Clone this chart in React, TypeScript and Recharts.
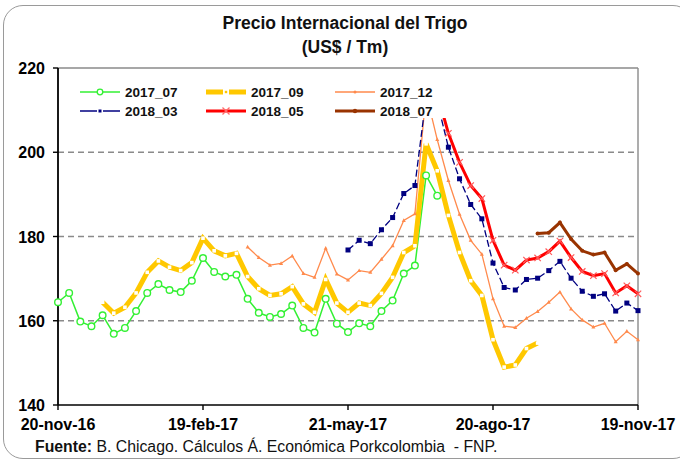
import React from 'react';
import { LineChart, Line, XAxis, YAxis, ReferenceLine, Legend } from 'recharts';

const xTicks = [0, 13, 26, 39, 52];
const xTickLabels = ['20-nov-16', '19-feb-17', '21-may-17', '20-ago-17', '19-nov-17'];
const yTicks = [140, 160, 180, 200, 220];
const gridLevels = [160, 180, 200];

const s2017_07 = [
  164.4, 166.6, 159.8, 158.7, 161.3, 156.9, 158.3, 162.3, 166.6, 168.7,
  167.3, 166.8, 169.5, 174.9, 171.6, 170.5, 170.9, 165.2, 161.9, 160.9,
  161.6, 163.6, 158.3, 157.2, 165.2, 159.3, 157.3, 159.4, 158.7, 162.3,
  164.8, 171.2, 173.1, 194.5, 189.7, null, null, null, null, null,
  null, null, null, null, null, null, null, null, null, null,
  null, null, null,
];
const s2017_09 = [
  null, null, null, null, 164.4, 161.8, 163.2, 166.6, 171.5, 174.2,
  172.7, 171.9, 173.8, 179.6, 176.6, 175.4, 176.0, 170.5, 167.6, 166.0,
  166.4, 168.1, 164.0, 162.0, 169.8, 164.2, 162.0, 164.2, 163.6, 166.5,
  170.3, 176.2, 177.8, 202.0, 195.6, 185.0, 176.2, 169.5, 166.0, 155.5,
  149.0, 149.5, 153.4, 154.7, null, null, null, null, null, null,
  null, null, null,
];
const s2017_12 = [
  null, null, null, null, null, null, null, null, null, null,
  null, null, null, null, null, null, null, 177.5, 175.0, 173.2,
  173.6, 175.4, 171.2, 170.3, 177.2, 171.1, 169.7, 171.9, 171.5, 174.6,
  177.8, 183.8, 185.4, 214.0, 203.0, 193.3, 185.3, 179.1, 175.8, 165.2,
  158.7, 158.4, 160.6, 162.2, 164.4, 166.8, 162.8, 160.2, 158.5, 159.4,
  155.0, 157.5, 155.5,
];
const s2018_03 = [
  null, null, null, null, null, null, null, null, null, null,
  null, null, null, null, null, null, null, null, null, null,
  null, null, null, null, null, null, 176.8, 179.1, 178.3, 181.6,
  184.5, 190.2, 192.1, 213.0, 212.0, 201.2, 193.7, 187.6, 184.2, 173.7,
  167.9, 167.3, 169.8, 170.1, 171.9, 174.1, 170.1, 167.0, 165.8, 166.4,
  162.3, 164.2, 162.4,
];
const s2018_05 = [
  null, null, null, null, null, null, null, null, null, null,
  null, null, null, null, null, null, null, null, null, null,
  null, null, null, null, null, null, null, null, null, null,
  null, null, null, null, 214.0, 204.5, 197.6, 192.1, 189.0, 179.1,
  173.2, 172.0, 174.4, 174.9, 176.4, 178.9, 175.0, 171.7, 170.7, 171.2,
  166.6, 168.3, 166.4,
];
const s2018_07 = [
  null, null, null, null, null, null, null, null, null, null,
  null, null, null, null, null, null, null, null, null, null,
  null, null, null, null, null, null, null, null, null, null,
  null, null, null, null, null, null, null, null, null, null,
  null, null, null, 180.7, 180.9, 183.3, 179.4, 176.6, 175.7, 176.2,
  172.0, 173.5, 171.2,
];

const data = s2017_07.map((_, i) => ({
  week: i,
  a: s2017_07[i],
  b: s2017_09[i],
  c: s2017_12[i],
  d: s2018_03[i],
  e: s2018_05[i],
  f: s2018_07[i],
}));

const GREEN = '#33F033';
const YELLOW = '#FFC800';
const ORANGE = '#FF8A4C';
const NAVY = '#000080';
const RED = '#FF0000';
const BROWN = '#993300';

const FONT = '"Liberation Sans", Arial, sans-serif';

const empty = (key: any) => <g key={key} />;

const greenDot = (p: any) => {
  if (p.cy == null || p.value == null) return empty(p.index);
  return <circle key={p.index} cx={p.cx} cy={p.cy} r={3.3} fill="#fff" stroke={GREEN} strokeWidth={1.4} />;
};
const yellowDot = (p: any) => {
  if (p.cy == null || p.value == null) return empty(p.index);
  return <rect key={p.index} x={p.cx - 1.8} y={p.cy - 1.8} width={3.6} height={3.6} fill="#fff" />;
};
const orangeDot = (p: any) => {
  if (p.cy == null || p.value == null) return empty(p.index);
  return (
    <path key={p.index} d={`M${p.cx},${p.cy - 2.2} L${p.cx + 2},${p.cy + 1.5} L${p.cx - 2},${p.cy + 1.5} Z`} fill={ORANGE} />
  );
};
const navyDot = (p: any) => {
  if (p.cy == null || p.value == null) return empty(p.index);
  return <rect key={p.index} x={p.cx - 2.5} y={p.cy - 2.5} width={5} height={5} fill={NAVY} />;
};
const redDot = (p: any) => {
  if (p.cy == null || p.value == null) return empty(p.index);
  const s = 3.2;
  return (
    <path
      key={p.index}
      d={`M${p.cx - s},${p.cy - s} L${p.cx + s},${p.cy + s} M${p.cx + s},${p.cy - s} L${p.cx - s},${p.cy + s}`}
      stroke="#FF5A5A"
      strokeWidth={1.2}
      fill="none"
    />
  );
};
const brownDot = (p: any) => {
  if (p.cy == null || p.value == null) return empty(p.index);
  return <circle key={p.index} cx={p.cx} cy={p.cy} r={2} fill={BROWN} />;
};

const XTick = (props: any) => {
  const { x, y, payload } = props;
  const idx = xTicks.indexOf(payload.value);
  return (
    <text x={x} y={y + 18} textAnchor="middle" fontFamily={FONT} fontWeight="bold" fontSize={16} fill="#000">
      {xTickLabels[idx]}
    </text>
  );
};

const YTick = (props: any) => {
  const { x, y, payload } = props;
  return (
    <text x={x} y={y + 6} textAnchor="end" fontFamily={FONT} fontWeight="bold" fontSize={16} fill="#000">
      {payload.value}
    </text>
  );
};

const legendItems = [
  { name: '2017_07', col: 0, row: 0, kind: 'green' },
  { name: '2017_09', col: 1, row: 0, kind: 'yellow' },
  { name: '2017_12', col: 2, row: 0, kind: 'orange' },
  { name: '2018_03', col: 0, row: 1, kind: 'navy' },
  { name: '2018_05', col: 1, row: 1, kind: 'red' },
  { name: '2018_07', col: 2, row: 1, kind: 'brown' },
];
const colLineStart = [18, 144, 273];

const legendIcon = (kind: string, x0: number, y: number) => {
  const x1 = x0 + 40;
  const m = x0 + 20;
  switch (kind) {
    case 'green':
      return (
        <g>
          <line x1={x0} y1={y} x2={x1} y2={y} stroke={GREEN} strokeWidth={1.5} />
          <circle cx={m} cy={y} r={2.8} fill="#fff" stroke={GREEN} strokeWidth={1.3} />
        </g>
      );
    case 'yellow':
      return (
        <g>
          <rect x={x0} y={y - 2.5} width={17} height={5} fill={YELLOW} />
          <rect x={m - 1.2} y={y - 1.2} width={2.4} height={2.4} fill={YELLOW} />
          <rect x={m + 3} y={y - 2.5} width={17} height={5} fill={YELLOW} />
        </g>
      );
    case 'orange':
      return (
        <g>
          <line x1={x0} y1={y} x2={x1} y2={y} stroke={ORANGE} strokeWidth={1.5} />
          <circle cx={m} cy={y} r={1.5} fill={ORANGE} />
        </g>
      );
    case 'navy':
      return (
        <g>
          <line x1={x0} y1={y} x2={m - 3} y2={y} stroke={NAVY} strokeWidth={1.5} />
          <rect x={m - 1.5} y={y - 1.5} width={3} height={3} fill={NAVY} />
          <line x1={m + 3} y1={y} x2={x1} y2={y} stroke={NAVY} strokeWidth={1.5} />
        </g>
      );
    case 'red':
      return (
        <g>
          <line x1={x0} y1={y} x2={x1} y2={y} stroke={RED} strokeWidth={3} />
          <path d={`M${m - 3.5},${y - 3.5} L${m + 3.5},${y + 3.5} M${m + 3.5},${y - 3.5} L${m - 3.5},${y + 3.5}`} stroke="#FF6A6A" strokeWidth={1.3} />
        </g>
      );
    default:
      return (
        <g>
          <line x1={x0} y1={y} x2={x1} y2={y} stroke={BROWN} strokeWidth={3} />
          <circle cx={m} cy={y} r={2.2} fill={BROWN} />
        </g>
      );
  }
};

const LegendContent = () => (
  <svg width={388} height={46} style={{ display: 'block', background: '#fff' }}>
    {legendItems.map((it) => {
      const x0 = colLineStart[it.col];
      const y = it.row === 0 ? 20 : 39;
      return (
        <g key={it.name}>
          {legendIcon(it.kind, x0, y)}
          <text x={x0 + 45} y={y + 5} fontFamily={FONT} fontWeight="bold" fontSize={13.5} fill="#111">
            {it.name}
          </text>
        </g>
      );
    })}
  </svg>
);

export default function App() {
  return (
    <div style={{ position: 'absolute', left: 0, top: 0, width: 680, height: 464, background: '#fff', fontFamily: FONT, overflow: 'hidden' }}>
      <div
        style={{
          position: 'absolute',
          left: 3,
          top: 5,
          width: 690,
          height: 454,
          border: '1.5px solid #9a9a9a',
          borderRadius: 20,
          boxSizing: 'border-box',
        }}
      />
      <div style={{ position: 'absolute', left: 0, top: 0 }}>
        <LineChart width={680} height={464} data={data} margin={{ top: 68, right: 42, bottom: 0, left: 0 }}>
          <XAxis
            dataKey="week"
            type="number"
            domain={[0, 52]}
            ticks={xTicks}
            interval={0}
            height={59}
            tick={<XTick />}
            tickSize={5}
            axisLine={{ stroke: '#000', strokeWidth: 1.6 }}
            tickLine={{ stroke: '#000', strokeWidth: 1.4 }}
          />
          <YAxis
            type="number"
            domain={[140, 220]}
            ticks={yTicks}
            allowDataOverflow
            width={58}
            tick={<YTick />}
            tickSize={5}
            tickMargin={8}
            axisLine={{ stroke: '#000', strokeWidth: 1.8 }}
            tickLine={{ stroke: '#000', strokeWidth: 1.4 }}
          />
          {gridLevels.map((g) => (
            <ReferenceLine key={g} y={g} stroke="#8a8a8a" strokeWidth={1.4} strokeDasharray="6 4" />
          ))}
          <ReferenceLine y={220} stroke="#8a8a8a" strokeWidth={1.4} />
          <ReferenceLine x={52} stroke="#8a8a8a" strokeWidth={1.4} />
          <Line dataKey="a" name="2017_07" stroke={GREEN} strokeWidth={1.5} dot={greenDot} isAnimationActive={false} connectNulls={false} />
          <Line dataKey="b" name="2017_09" stroke={YELLOW} strokeWidth={5} dot={yellowDot} isAnimationActive={false} />
          <Line dataKey="c" name="2017_12" stroke={ORANGE} strokeWidth={1.3} dot={orangeDot} isAnimationActive={false} />
          <Line dataKey="d" name="2018_03" stroke={NAVY} strokeWidth={1.3} strokeDasharray="7 3" dot={navyDot} isAnimationActive={false} />
          <Line dataKey="e" name="2018_05" stroke={RED} strokeWidth={3} dot={redDot} isAnimationActive={false} />
          <Line dataKey="f" name="2018_07" stroke={BROWN} strokeWidth={3} dot={brownDot} isAnimationActive={false} />
          <Legend
            layout="horizontal"
            align="center"
            verticalAlign="middle"
            content={<LegendContent />}
            wrapperStyle={{ left: 62, top: 72, width: 388, height: 46, background: '#fff' }}
          />
        </LineChart>
      </div>
      <div
        style={{
          position: 'absolute',
          left: 0,
          width: 690,
          top: 11,
          textAlign: 'center',
          fontWeight: 'bold',
          fontSize: 17.5,
          lineHeight: '24px',
          color: '#111',
        }}
      >
        <div>Precio Internacional del Trigo</div>
        <div>(US$ / Tm)</div>
      </div>
      <div style={{ position: 'absolute', left: 35, top: 438, fontSize: 15.8, color: '#111', whiteSpace: 'nowrap' }}>
        <span style={{ fontWeight: 'bold' }}>Fuente:</span> B. Chicago. Cálculos Á. Económica Porkcolombia&nbsp; - FNP.
      </div>
    </div>
  );
}
